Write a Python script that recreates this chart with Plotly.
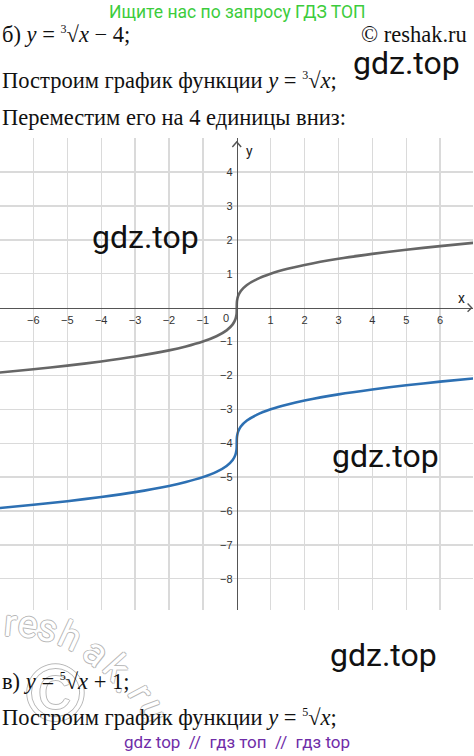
import plotly.graph_objects as go

# ---- data ----
x_vals = [-7, -6, -5, -4, -3, -2, -1.5, -1, -0.6, -0.3, -0.12, -0.04, -0.01, -0.002, 0,
          0.002, 0.01, 0.04, 0.12, 0.3, 0.6, 1, 1.5, 2, 3, 4, 5, 6, 7]
y_base = [-1.913, -1.817, -1.710, -1.587, -1.442, -1.260, -1.145, -1.0, -0.843, -0.669, -0.493,
          -0.342, -0.215, -0.126, 0.0,
          0.126, 0.215, 0.342, 0.493, 0.669, 0.843, 1.0, 1.145, 1.260, 1.442, 1.587, 1.710, 1.817, 1.913]
y_shift = [-5.913, -5.817, -5.710, -5.587, -5.442, -5.260, -5.145, -5.0, -4.843, -4.669, -4.493,
           -4.342, -4.215, -4.126, -4.0,
           -3.874, -3.785, -3.658, -3.507, -3.331, -3.157, -3.0, -2.855, -2.740, -2.558, -2.413, -2.290, -2.183, -2.087]
x_ticks = [-6, -5, -4, -3, -2, -1, 1, 2, 3, 4, 5, 6]
y_ticks = [-8, -7, -6, -5, -4, -3, -2, -1, 1, 2, 3, 4]

W, H = 474, 756
X_RANGE = [-6.985, 6.97]
Y_RANGE = [-8.92, 5.006]

fig = go.Figure()
fig.add_trace(go.Scatter(x=x_vals, y=y_base, mode="lines",
                         line=dict(color="#666666", width=2.6, shape="spline", smoothing=0.6),
                         hoverinfo="skip", showlegend=False))
fig.add_trace(go.Scatter(x=x_vals, y=y_shift, mode="lines",
                         line=dict(color="#2d70b3", width=2.6, shape="spline", smoothing=0.6),
                         hoverinfo="skip", showlegend=False))

tickfont = dict(family="Liberation Sans, Arial, sans-serif", size=11, color="#333")
fig.update_xaxes(range=X_RANGE, domain=[0, 473 / W], anchor="free", position=1 - 307.7 / H,
                 tickvals=x_ticks, ticktext=[str(v).replace("-", "\u2212") for v in x_ticks],
                 showgrid=True, gridcolor="#dadada", gridwidth=1.3,
                 showline=True, linecolor="#555", linewidth=1.6, zeroline=False,
                 ticks="", tickfont=tickfont, ticklabelstandoff=1, fixedrange=True)
fig.update_yaxes(range=Y_RANGE, domain=[1 - 610 / H, 1 - 138 / H], anchor="free", position=236.8 / W,
                 tickvals=y_ticks, ticktext=[str(v).replace("-", "\u2212") for v in y_ticks],
                 showgrid=True, gridcolor="#dadada", gridwidth=1.3,
                 showline=True, linecolor="#555", linewidth=1.6, zeroline=False,
                 ticks="", tickfont=tickfont, ticklabelstandoff=2, fixedrange=True)

# axis arrowheads (open chevrons)
fig.add_shape(type="path", xref="x", yref="y",
              path="M -0.13 4.74 L 0 4.89 L 0.13 4.74", line=dict(color="#555", width=1.4))
fig.add_shape(type="path", xref="x", yref="y",
              path="M 6.81 0.12 L 6.93 0 L 6.81 -0.12", line=dict(color="#555", width=1.4))

def px(x, y, text, size, color="#111", family="Liberation Serif, serif", xanchor="left", **kw):
    fig.add_annotation(x=x / W, y=1 - y / H, xref="paper", yref="paper", text=text,
                       showarrow=False, xanchor=xanchor, yanchor="middle",
                       font=dict(family=family, size=size, color=color, **kw.pop("fontkw", {})), **kw)

sans = "Roboto, Liberation Sans, sans-serif"
SUP = "<sup><span style='font-size:12px'>%s</span></sup>"
# axis letters and origin
px(244, 151, "y", 14, color="#222", family=sans)
px(456, 298, "x", 14, color="#222", family=sans)
px(226, 318, "0", 11, color="#333", family="Liberation Sans, Arial, sans-serif", xanchor="center")

# reshak.ru outlined watermark (drawn first, under the text)
outline = "1px 0 #b8b8b8, -1px 0 #b8b8b8, 0 1px #b8b8b8, 0 -1px #b8b8b8"
for ch, cx, cy, ang in [("r", 10, 623, 5), ("e", 28, 624, 8), ("s", 48, 628, 15), ("h", 70, 636, 25),
                        ("a", 96, 652, 38), ("k", 117, 668, 48), (".", 128, 684, 55),
                        ("r", 141, 692, 62), ("u", 154, 710, 70)]:
    px(cx, cy, ch, 38, color="#ffffff", family=sans, xanchor="center",
       textangle=ang, fontkw=dict(shadow=outline))
px(55, 692, "©", 80, color="#ffffff", family="Liberation Sans, sans-serif", xanchor="center",
   fontkw=dict(shadow=outline))

# texts
px(237, 12, "Ищите нас по запросу ГДЗ ТОП", 17.5, color="#3ccc3c", family=sans, xanchor="center")
px(0, 34, "б) <i>y</i> = " + SUP % "3" + "√<i>x</i> − 4;", 22.5)
px(469, 34, "© reshak.ru", 22.5, xanchor="right")
px(351, 63, "gdz.top", 32, color="#111", family=sans)
px(0, 81, "Построим график функции <i>y</i> = " + SUP % "3" + "√<i>x</i>;", 22.5)
px(0, 117, "Переместим его на 4 единицы вниз:", 22.5)

px(90, 237, "gdz.top", 32, color="#111", family=sans)
px(330, 456, "gdz.top", 32, color="#111", family=sans)
px(328, 655, "gdz.top", 32, color="#111", family=sans)

px(0, 681, "в) <i>y</i> = " + SUP % "5" + "√<i>x</i> + 1;", 22.5)
px(0, 717, "Построим график функции <i>y</i> = " + SUP % "5" + "√<i>x</i>;", 22.5)
px(237, 742, "gdz top  //  гдз топ  //  гдз top", 17, color="#6f2da8", family=sans, xanchor="center")

fig.update_layout(width=W, height=H, margin=dict(l=0, r=0, t=0, b=0),
                  paper_bgcolor="white", plot_bgcolor="white", showlegend=False)
fig.write_html("out.html", config={"displayModeBar": False, "staticPlot": True},
               post_script="document.body.style.margin='0';document.body.style.padding='0';"
                           "document.body.style.overflow='hidden';")
